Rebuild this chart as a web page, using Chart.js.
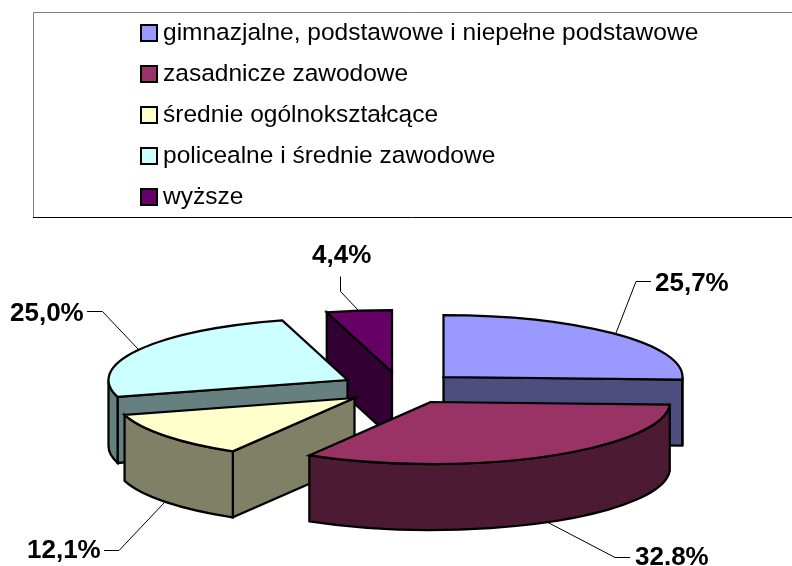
<!DOCTYPE html>
<html><head><meta charset="utf-8">
<style>html,body{margin:0;padding:0;background:#fff}canvas{display:block}</style>
<script src="https://cdn.jsdelivr.net/npm/chart.js@4"></script>
</head><body><canvas id="c" width="792" height="566"></canvas>
<script>
const categories = ['gimnazjalne, podstawowe i niepełne podstawowe','zasadnicze zawodowe','średnie ogólnokształcące','policealne i średnie zawodowe','wyższe'];
const shares = [25.7,32.8,12.1,25.0,4.4];
const shareLabels = ['25,7%','32.8%','12,1%','25,0%','4,4%'];
const topColors = ['#9999FF','#993366','#FFFFCC','#CCFFFF','#660066'];
const wallColors = ['#4D4D80','#4D1A33','#808066','#668080','#330033'];
const explodeX = [47.5,35,-41.5,-48.5,-4];
const explodeY = [94,119,115,97,89];
const paintOrder = [4,0,3,2,1];
const labelAnchors = [[655,291],[635,565],[27,558],[10,321],[312,263]];
const leaders = [
  [[651,281.5],[636,281.5],[616,333]],
  [[630,557.5],[615,557.5],[548,522.5]],
  [[104,550.5],[119,550.5],[164,503]],
  [[87,311.5],[102.5,311.5],[138,349]],
  [[340.5,276.5],[340.5,291.5],[358,310]]
];
const squash = 62/239, depth = 66;

const pie3d = {
  id:'pie3d',
  afterLayout(chart){
    chart.legend.left = 130.75;
    chart.legend.top = 4.25;
  },
  beforeDraw(chart){
    const g = chart.ctx;
    g.save();
    g.lineWidth = 1;
    g.strokeStyle = '#808080';
    g.beginPath(); g.moveTo(792,12.5); g.lineTo(33.5,12.5); g.lineTo(33.5,217); g.stroke();
    g.strokeStyle = '#000';
    g.beginPath(); g.moveTo(33,217.5); g.lineTo(792,217.5); g.stroke();
    g.restore();
  },
  beforeDatasetDraw(chart){
    const g = chart.ctx, arcs = chart.getDatasetMeta(0).data;
    g.save();
    g.lineWidth = 2.25; g.strokeStyle = '#000'; g.lineJoin = 'miter';
    const paint = fill => { g.fillStyle = fill; g.fill(); g.stroke(); };
    for (const i of paintOrder) {
      const a = arcs[i], cx = a.x + explodeX[i], cy = a.y + explodeY[i];
      const rx = a.outerRadius, ry = rx*squash;
      const pt = t => [cx + rx*Math.cos(t), cy + ry*Math.sin(t)];
      const wall = t => {
        const p = pt(t);
        g.beginPath(); g.moveTo(cx,cy); g.lineTo(p[0],p[1]);
        g.lineTo(p[0],p[1]+depth); g.lineTo(cx,cy+depth); g.closePath();
        paint(wallColors[i]);
      };
      if (Math.sin(a.startAngle - Math.PI/2) > 0) wall(a.startAngle);
      if (Math.sin(a.endAngle + Math.PI/2) > 0) wall(a.endAngle);
      // outer rim: only the part of the arc that faces the viewer
      let s = a.startAngle, e = a.endAngle;
      const shift = 2*Math.PI*Math.floor(s/(2*Math.PI));
      s -= shift; e -= shift;
      let lo = Math.max(s,0), hi = Math.min(e,Math.PI);
      if (s > Math.PI) { lo = Math.max(s,2*Math.PI); hi = Math.min(e,3*Math.PI); }
      if (hi > lo) {
        g.beginPath();
        g.ellipse(cx,cy,rx,ry,0,lo,hi);
        g.ellipse(cx,cy+depth,rx,ry,0,hi,lo,true);
        g.closePath();
        paint(wallColors[i]);
      }
      g.beginPath();
      g.moveTo(cx,cy);
      g.ellipse(cx,cy,rx,ry,0,a.startAngle,a.endAngle);
      g.closePath();
      paint(topColors[i]);
    }
    // leader lines and value labels
    g.lineWidth = 1; g.strokeStyle = '#000';
    leaders.forEach(l => {
      g.beginPath(); l.forEach((p,k)=> k? g.lineTo(p[0],p[1]) : g.moveTo(p[0],p[1])); g.stroke();
    });
    g.fillStyle = '#000';
    g.font = 'bold 26px "Liberation Sans", Arial, sans-serif';
    g.textAlign = 'left'; g.textBaseline = 'alphabetic';
    shareLabels.forEach((t,i)=> g.fillText(t,labelAnchors[i][0],labelAnchors[i][1]));
    g.restore();
    return false;
  }
};

new Chart(document.getElementById('c'), {
  type:'pie',
  data:{ labels:categories, datasets:[{ data:shares, backgroundColor:topColors, borderColor:'#000', borderWidth:2, radius:239 }] },
  options:{
    responsive:false, animation:false,
    layout:{padding:0},
    plugins:{
      tooltip:{enabled:false},
      legend:{
        position:'chartArea', align:'start',
        labels:{
          usePointStyle:true, pointStyle:'rect', boxWidth:3.5, boxHeight:16, padding:16.5,
          color:'#000', font:{family:'"Liberation Sans", Arial, sans-serif', size:24.5}
        }
      }
    }
  },
  plugins:[pie3d]
});
</script></body></html>
